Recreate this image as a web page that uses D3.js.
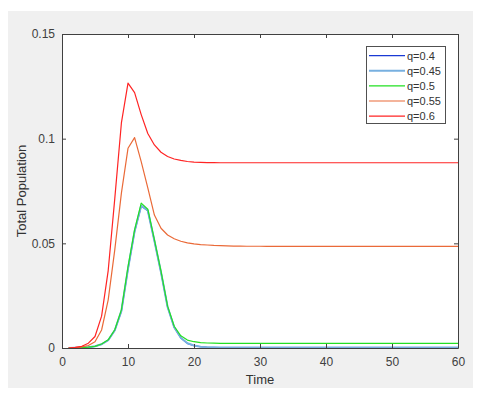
<!DOCTYPE html>
<html>
<head>
<meta charset="utf-8">
<script src="https://cdn.jsdelivr.net/npm/d3@7"></script>
<style>
  body { margin: 0; background: #fff; }
  text { font-family: "Liberation Sans", Arial, sans-serif; }
</style>
</head>
<body>
<svg id="chart" width="482" height="395"></svg>
<script>
// values, t = 1..60
var times = d3.range(1, 61);
var xTicks = [0, 10, 20, 30, 40, 50, 60];
var yTicks = [0, 0.05, 0.1, 0.15];
var labels = ["q=0.4", "q=0.45", "q=0.5", "q=0.55", "q=0.6"];
var colors = ["#1a3ad4", "#78b0e0", "#22e022", "#ea6a38", "#ff2424"];
var widths = [1.2, 2, 1.2, 1.2, 1.2];

var q40 = [0, 0.0001, 0.0002, 0.0004, 0.0008, 0.0018, 0.0037, 0.0084, 0.0175, 0.0375,
  0.0555, 0.0678, 0.0655, 0.051, 0.036, 0.0195, 0.0098, 0.0048, 0.0022, 0.0011,
  0.0006, 0.0003, 0.0002, 0.0001, 0.0001, 0.0001, 0.0001, 0.0001, 0.0001, 0.0001,
  0.0001, 0.0001, 0.0001, 0.0001, 0.0001, 0.0001, 0.0001, 0.0001, 0.0001, 0.0001,
  0.0001, 0.0001, 0.0001, 0.0001, 0.0001, 0.0001, 0.0001, 0.0001, 0.0001, 0.0001,
  0.0001, 0.0001, 0.0001, 0.0001, 0.0001, 0.0001, 0.0001, 0.0001, 0.0001, 0.0001];
var q45 = [0, 0.0001, 0.0002, 0.0004, 0.0008, 0.0018, 0.0037, 0.0085, 0.0177, 0.0378,
  0.0558, 0.0680, 0.0657, 0.0512, 0.0362, 0.0196, 0.0099, 0.0049, 0.0023, 0.0012,
  0.0006, 0.0004, 0.0003, 0.0002, 0.0002, 0.0002, 0.0002, 0.0002, 0.0002, 0.0002,
  0.0002, 0.0002, 0.0002, 0.0002, 0.0002, 0.0002, 0.0002, 0.0002, 0.0002, 0.0002,
  0.0002, 0.0002, 0.0002, 0.0002, 0.0002, 0.0002, 0.0002, 0.0002, 0.0002, 0.0002,
  0.0002, 0.0002, 0.0002, 0.0002, 0.0002, 0.0002, 0.0002, 0.0002, 0.0002, 0.0002];
var q50 = [0, 0.0001, 0.0002, 0.0004, 0.0008, 0.0019, 0.0039, 0.0087, 0.0182, 0.0388,
  0.0564, 0.0692, 0.0663, 0.0518, 0.0367, 0.0200, 0.0104, 0.0058, 0.0038, 0.0030,
  0.0026, 0.0024, 0.0023, 0.0022, 0.0022, 0.0022, 0.0022, 0.0022, 0.0022, 0.0022,
  0.0022, 0.0022, 0.0022, 0.0022, 0.0022, 0.0022, 0.0022, 0.0022, 0.0022, 0.0022,
  0.0022, 0.0022, 0.0022, 0.0022, 0.0022, 0.0022, 0.0022, 0.0022, 0.0022, 0.0022,
  0.0022, 0.0022, 0.0022, 0.0022, 0.0022, 0.0022, 0.0022, 0.0022, 0.0022, 0.0022];
var q55 = [0, 0.0002, 0.0005, 0.0012, 0.003, 0.0086, 0.023, 0.047, 0.074, 0.0954,
  0.1005, 0.089, 0.0765, 0.0635, 0.0572, 0.054, 0.0522, 0.0510, 0.0502, 0.0497,
  0.0494, 0.0492, 0.0490, 0.0489, 0.0488, 0.0487, 0.0487, 0.0486, 0.0486, 0.0486,
  0.0485, 0.0485, 0.0485, 0.0485, 0.0485, 0.0485, 0.0485, 0.0485, 0.0485, 0.0485,
  0.0485, 0.0485, 0.0485, 0.0485, 0.0485, 0.0485, 0.0485, 0.0485, 0.0485, 0.0485,
  0.0485, 0.0485, 0.0485, 0.0485, 0.0485, 0.0485, 0.0485, 0.0485, 0.0485, 0.0485];
var q60 = [0, 0.0003, 0.0008, 0.0023, 0.0055, 0.0152, 0.037, 0.0715, 0.1075, 0.1265,
  0.122, 0.1115, 0.1025, 0.097, 0.0935, 0.0915, 0.0903, 0.0896, 0.0891, 0.0888,
  0.0887, 0.0886, 0.0886, 0.0885, 0.0885, 0.0885, 0.0885, 0.0885, 0.0885, 0.0885,
  0.0885, 0.0885, 0.0885, 0.0885, 0.0885, 0.0885, 0.0885, 0.0885, 0.0885, 0.0885,
  0.0885, 0.0885, 0.0885, 0.0885, 0.0885, 0.0885, 0.0885, 0.0885, 0.0885, 0.0885,
  0.0885, 0.0885, 0.0885, 0.0885, 0.0885, 0.0885, 0.0885, 0.0885, 0.0885, 0.0885];
var series = [q40, q45, q50, q55, q60];

var svg = d3.select("#chart");
var pLeft = 62, pRight = 458, pTop = 34, pBottom = 348;

// grey figure panel
svg.append("rect").attr("x", 8).attr("y", 11).attr("width", 465).attr("height", 377).attr("fill", "#f0f0f0");
svg.append("rect").attr("x", pLeft).attr("y", pTop).attr("width", pRight - pLeft).attr("height", pBottom - pTop).attr("fill", "#fff");

var x = d3.scaleLinear().domain([0, 60]).range([pLeft, pRight]);
var y = d3.scaleLinear().domain([0, 0.15]).range([pBottom, pTop]);

var line = d3.line().x(function(d, i){ return x(times[i]); }).y(function(d){ return y(d); });

var plot = svg.append("g");
series.forEach(function(s, i){
  plot.append("path")
    .attr("d", line(s))
    .attr("fill", "none")
    .attr("stroke", colors[i])
    .attr("stroke-width", widths[i])
    .attr("stroke-linejoin", "round");
});

// axes, MATLAB-style box with inward ticks
var axisColor = "#404040";
var xb = svg.append("g").attr("transform", "translate(0," + pBottom + ")")
  .call(d3.axisBottom(x).tickValues(xTicks).tickFormat(d3.format("d")).tickSizeInner(-4).tickSizeOuter(0).tickPadding(9));
var xt = svg.append("g").attr("transform", "translate(0," + pTop + ")")
  .call(d3.axisTop(x).tickValues(xTicks).tickFormat("").tickSizeInner(-4).tickSizeOuter(0));
var yl = svg.append("g").attr("transform", "translate(" + pLeft + ",0)")
  .call(d3.axisLeft(y).tickValues(yTicks).tickFormat(function(d){ return d === 0 ? "0" : String(+d.toFixed(2)); }).tickSizeInner(-4).tickSizeOuter(0).tickPadding(7));
var yr = svg.append("g").attr("transform", "translate(" + pRight + ",0)")
  .call(d3.axisRight(y).tickValues(yTicks).tickFormat("").tickSizeInner(-4).tickSizeOuter(0));

[xb, xt, yl, yr].forEach(function(g){
  g.selectAll("path, line").attr("stroke", axisColor).attr("stroke-width", 1);
  g.selectAll("text").attr("fill", "#404040").style("font-size", "12px").style("font-family", "Liberation Sans, Arial, sans-serif");
});

svg.append("text").attr("x", (pLeft + pRight) / 2).attr("y", 384)
  .attr("text-anchor", "middle").attr("fill", "#333").style("font-size", "13px").text("Time");
svg.append("text").attr("transform", "translate(26," + ((pTop + pBottom) / 2) + ") rotate(-90)")
  .attr("text-anchor", "middle").attr("fill", "#333").style("font-size", "13px").text("Total Population");

// legend
var lg = svg.append("g");
lg.append("rect").attr("x", 366.5).attr("y", 46.5).attr("width", 79).attr("height", 77)
  .attr("fill", "#fff").attr("stroke", "#505050").attr("stroke-width", 1);
labels.forEach(function(l, i){
  var yy = 55.7 + i * 15.1;
  lg.append("line").attr("x1", 369).attr("x2", 405).attr("y1", yy).attr("y2", yy)
    .attr("stroke", colors[i]).attr("stroke-width", widths[i]);
  lg.append("text").attr("x", 407).attr("y", yy + 4).attr("fill", "#333")
    .style("font-size", "11px").text(l);
});
</script>
</body>
</html>
